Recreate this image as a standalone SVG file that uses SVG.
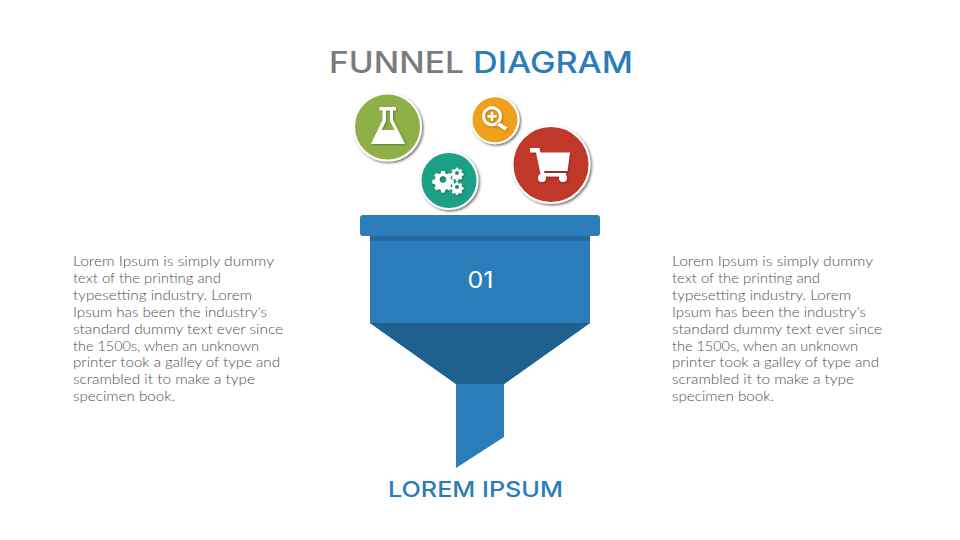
<svg xmlns="http://www.w3.org/2000/svg" width="960" height="540" viewBox="0 0 960 540">
<style>
.body{font-family:"Lato","Open Sans","Liberation Sans",sans-serif;font-weight:300;font-size:14.500px;fill:#505050}
.head{font-family:"Inter","Open Sans","Liberation Sans",sans-serif;font-weight:500}
.disc{stroke:#fff;stroke-width:2;filter:url(#shadow)}
.icon{fill:#fff;filter:url(#ishadow)}
</style>
<defs>
<filter id="shadow" x="-20%" y="-20%" width="150%" height="150%"><feDropShadow dx="1.500" dy="1.500" stdDeviation="1.300" flood-color="#000" flood-opacity=".55"/></filter>
<filter id="ishadow" x="-20%" y="-20%" width="150%" height="150%"><feDropShadow dx="1" dy="1" stdDeviation=".8" flood-color="#000" flood-opacity=".3"/></filter>
<g id="gear"><path d="M-2-10h4l.7 3 2.200.9 2.600-1.600 2.800 2.800-1.600 2.600.9 2.200 3 .7v4l-3 .7-.9 2.200 1.600 2.600-2.800 2.800-2.600-1.600-2.200.9-.7 3h-4l-.7-3-2.200-.9-2.600 1.600-2.800-2.800 1.600-2.600-.9-2.200-3-.7v-4l3-.7.9-2.200-1.600-2.600 2.800-2.800 2.600 1.600 2.200-.9zM0-4a4 4 0 1 0 .01 0z" fill-rule="evenodd"/></g>
</defs>
<rect width="960" height="540" fill="#fff"/>
<g id="title"><text class="head" x="329" y="72.500" font-size="29.500" fill="#7b7b7b" textLength="135" lengthAdjust="spacingAndGlyphs">FUNNEL</text><text class="head" x="473" y="72.500" font-size="29.500" fill="#2a7db8" textLength="160" lengthAdjust="spacingAndGlyphs">DIAGRAM</text></g>
<g id="funnel">
<path d="M370 236H590V323L504 384H456L370 323Z" fill="#2a7db8"/>
<rect x="370" y="236" width="220" height="5" fill="#226a9f"/>
<path d="M370 323H590L504 384H456Z" fill="#20608f"/>
<rect x="360" y="215" width="240" height="21" rx="3" fill="#2a7db8"/>
<path d="M456 384H504V437L456 468Z" fill="#2a7db8"/>
<text class="head" x="480.500" y="288" font-size="23" fill="#fff" text-anchor="middle" style="font-weight:400" textLength="26" lengthAdjust="spacingAndGlyphs">01</text>
</g>
<g id="node-flask"><circle class="disc" cx="387.500" cy="127" r="33.500" fill="#8fb04a"/><path class="icon" d="M379.500 107H396V110.500H393V120L405 144H371L382.500 120V110.500H379.500ZM386 110.500V121L381.500 130H394.500L390 121V110.500Z" fill-rule="evenodd"/></g>
<g id="node-zoom"><circle class="disc" cx="495" cy="119.800" r="23.500" fill="#f0a01e"/><path class="icon" d="M492 106.300a10 10 0 1 1-.01 0zM492 109.300a7 7 0 1 0 .01 0zM490.800 111.800H493.200V115.100H496.500V117.500H493.200V120.800H490.800V117.500H487.500V115.100H490.800ZM498.500 122L507.500 127.500 505 130.500 496 124.500Z" fill-rule="evenodd"/></g>
<g id="node-gears"><circle class="disc" cx="449" cy="180.500" r="28.500" fill="#1fa187"/><g class="icon"><use href="#gear" transform="translate(443 179.500) scale(.85)"/><use href="#gear" transform="translate(457 173) scale(.52)"/><use href="#gear" transform="translate(457 187) scale(.52)"/></g></g>
<g id="node-cart"><circle class="disc" cx="551" cy="164.500" r="38.500" fill="#c0392b"/><g class="icon"><path d="M530 148H539.500L540.500 152.500H570L567.500 171H544L544.500 173H566V176.500H541L536 152.500H530Z"/><circle cx="542" cy="178" r="4"/><circle cx="563" cy="178" r="4"/></g></g>
<g id="text-left" class="body">
<text x="73" y="266" textLength="201" lengthAdjust="spacingAndGlyphs">Lorem Ipsum is simply dummy</text>
<text x="73" y="283" textLength="148" lengthAdjust="spacingAndGlyphs">text of the printing and</text>
<text x="73" y="300" textLength="179" lengthAdjust="spacingAndGlyphs">typesetting industry. Lorem</text>
<text x="73" y="316.500" textLength="194" lengthAdjust="spacingAndGlyphs">Ipsum has been the industry's</text>
<text x="73" y="333.500" textLength="210" lengthAdjust="spacingAndGlyphs">standard dummy text ever since</text>
<text x="73" y="350.500" textLength="186" lengthAdjust="spacingAndGlyphs">the 1500s, when an unknown</text>
<text x="73" y="367" textLength="207" lengthAdjust="spacingAndGlyphs">printer took a galley of type and</text>
<text x="73" y="384" textLength="182" lengthAdjust="spacingAndGlyphs">scrambled it to make a type</text>
<text x="73" y="400.500" textLength="102" lengthAdjust="spacingAndGlyphs">specimen book.</text>
</g>
<g id="text-right" class="body">
<text x="672" y="266" textLength="201" lengthAdjust="spacingAndGlyphs">Lorem Ipsum is simply dummy</text>
<text x="672" y="283" textLength="148" lengthAdjust="spacingAndGlyphs">text of the printing and</text>
<text x="672" y="300" textLength="179" lengthAdjust="spacingAndGlyphs">typesetting industry. Lorem</text>
<text x="672" y="316.500" textLength="194" lengthAdjust="spacingAndGlyphs">Ipsum has been the industry's</text>
<text x="672" y="333.500" textLength="210" lengthAdjust="spacingAndGlyphs">standard dummy text ever since</text>
<text x="672" y="350.500" textLength="186" lengthAdjust="spacingAndGlyphs">the 1500s, when an unknown</text>
<text x="672" y="367" textLength="207" lengthAdjust="spacingAndGlyphs">printer took a galley of type and</text>
<text x="672" y="384" textLength="182" lengthAdjust="spacingAndGlyphs">scrambled it to make a type</text>
<text x="672" y="400.500" textLength="102" lengthAdjust="spacingAndGlyphs">specimen book.</text>
</g>
<text id="label" class="head" x="388" y="497" font-size="22" fill="#2a7db8" textLength="175" lengthAdjust="spacingAndGlyphs">LOREM IPSUM</text>
</svg>
